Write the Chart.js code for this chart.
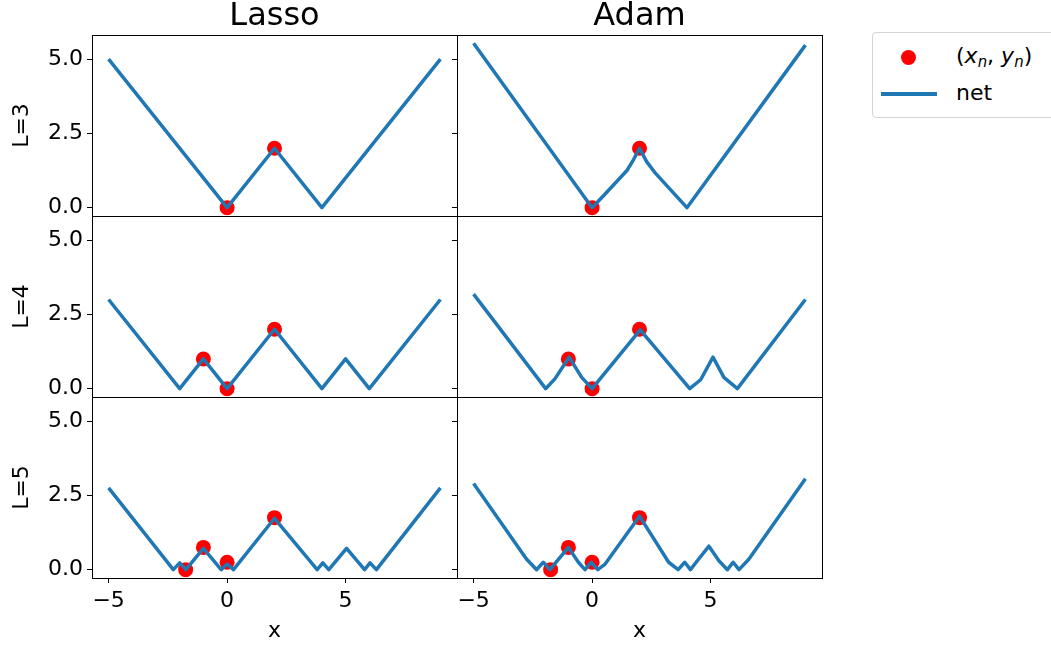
<!DOCTYPE html>
<html lang="en">
<head>
<meta charset="UTF-8">
<title>Lasso vs Adam</title>
<script src="https://cdn.jsdelivr.net/npm/chart.js"></script>
<style>
  body {
    margin: 0;
    background: #fff;
    width: 1051px;
    height: 645px;
    overflow: hidden;
    position: relative;
    font-family: "DejaVu Sans", sans-serif;
  }
  canvas.panel { position: absolute; }
  .legend {
    position: absolute; left: 872px; top: 32px;
    width: 200px; height: 86px;
    border: 1px solid #d4d4d4; border-radius: 4px;
    box-sizing: border-box;
  }
  .legend .dot {
    position: absolute; left: 28px; top: 17px;
    width: 15px; height: 15px; border-radius: 50%; background: red;
  }
  .legend .swatch {
    position: absolute; left: 8px; top: 59px;
    width: 56px; height: 3.5px; background: #1f77b4;
  }
  .legend .lbl {
    position: absolute; left: 83px;
    font-size: 22px; line-height: 26px; color: #000; white-space: nowrap;
  }
  .legend sub { font-size: 68%; vertical-align: -0.3em; line-height: 0; }
</style>
</head>
<body>

<div class="legend">
  <span class="dot"></span>
  <span class="lbl" style="top:10px">(<i>x</i><sub><i>n</i></sub>, <i>y</i><sub><i>n</i></sub>)</span>
  <span class="swatch"></span>
  <span class="lbl" style="top:47px">net</span>
</div>

<script>
// axis ticks and labels
const xTicks = [-5, 0, 5];
const yTicks = [0, 2.5, 5];
const colTitles = ["Lasso", "Adam"];
const rowLabels = ["L=3", "L=4", "L=5"];

// training points (x_n, y_n) for each depth
const ptsX3 = [0, 2];
const ptsY3 = [0, 2];
const ptsX4 = [-1, 0, 2];
const ptsY4 = [1, 0, 2];
const ptsX5 = [-1.75, -1, 0, 2];
const ptsY5 = [0, 0.75, 0.25, 1.75];

// network output, Lasso column
const lassoX3 = [-5, 0, 2, 4, 9];
const lassoY3 = [5, 0, 2, 0, 5];
const lassoX4 = [-5, -2, -1, 0, 2, 4, 5, 6, 9];
const lassoY4 = [3, 0, 1, 0, 2, 0, 1, 0, 3];
const lassoX5 = [-5, -2.27, -2, -1.74, -1, -0.25, 0, 0.27, 2, 3.8, 4.04, 4.29, 5.04, 5.8, 6.03, 6.3, 9];
const lassoY5 = [2.75, 0, 0.23, 0, 0.72, 0, 0.19, 0, 1.73, 0, 0.23, 0, 0.72, 0, 0.23, 0, 2.75];

// network output, Adam column
const adamX3 = [-5, 0, 0.55, 1.47, 1.75, 2, 2.3, 2.64, 4, 9];
const adamY3 = [5.53, 0, 0.46, 1.25, 1.62, 2.0, 1.55, 1.19, 0, 5.47];
const adamX4 = [-5, -1.96, -1.57, -0.97, -0.44, 0, 2.03, 4.12, 4.58, 5.1, 5.56, 6.13, 9];
const adamY4 = [3.18, 0, 0.33, 1.06, 0.38, 0, 1.98, 0, 0.3, 1.06, 0.38, 0, 3.0];
const adamX5 = [-5, -2.77, -2.34, -2.06, -1.78, -1, -0.58, -0.3, -0.04, 0.24, 0.55, 2, 3.23, 3.63, 3.91, 4.15, 4.44, 4.93, 5.35, 5.71, 5.95, 6.2, 6.62, 9];
const adamY5 = [2.9, 0.36, 0, 0.25, 0, 0.75, 0.25, 0, 0.25, 0, 0.19, 1.8, 0.25, 0, 0.25, 0, 0.3, 0.79, 0.3, 0, 0.25, 0, 0.36, 3.06];

const xMin = -5.7, xMax = 9.7;
const yMin = -0.28, yMax = 5.81;

const panels = [
  [[lassoX3, lassoY3, ptsX3, ptsY3], [adamX3, adamY3, ptsX3, ptsY3]],
  [[lassoX4, lassoY4, ptsX4, ptsY4], [adamX4, adamY4, ptsX4, ptsY4]],
  [[lassoX5, lassoY5, ptsX5, ptsY5], [adamX5, adamY5, ptsX5, ptsY5]],
];

Chart.defaults.font.family = "'DejaVu Sans', sans-serif";
Chart.defaults.color = "#000";

const toXY = (xs, ys) => xs.map((x, i) => ({ x: x, y: ys[i] }));

// black box round every axes, like matplotlib spines
const frame = {
  id: "frame",
  afterDraw(chart) {
    const { ctx, chartArea: a } = chart;
    ctx.save();
    ctx.strokeStyle = "#000";
    ctx.lineWidth = 1;
    ctx.strokeRect(Math.round(a.left) + 0.5, Math.round(a.top) + 0.5,
                   Math.round(a.right - a.left), Math.round(a.bottom - a.top));
    ctx.restore();
  }
};

const plotLeft = [92, 457];
const rowTop = [35, 216, 397];
const plotW = 365, plotH = 181;
const pad = 24;

function makePanel(row, col) {
  const [netX, netY, pX, pY] = panels[row][col];
  const axisW = col === 0 ? 92 : 60;
  const xAxisH = row === 2 ? 67 : 0;
  const padTop = row === 0 ? 0 : pad;
  const padBottom = row === 2 ? 0 : pad;
  const canvasTop = rowTop[row] - (row === 0 ? 35 : pad);
  const w = axisW + plotW + 10;
  const h = (rowTop[row] - canvasTop) + plotH + xAxisH + padBottom;

  const canvas = document.createElement("canvas");
  canvas.className = "panel";
  canvas.width = w;
  canvas.height = h;
  canvas.style.left = (plotLeft[col] - axisW) + "px";
  canvas.style.top = canvasTop + "px";
  canvas.style.width = w + "px";
  canvas.style.height = h + "px";
  document.body.appendChild(canvas);

  new Chart(canvas.getContext("2d"), {
    type: "scatter",
    data: {
      datasets: [
        {
          type: "line",
          label: "net",
          data: toXY(netX, netY),
          borderColor: "#1f77b4",
          borderWidth: 3.5,
          borderJoinStyle: "round",
          pointRadius: 0,
          tension: 0,
          fill: false,
        },
        {
          label: "(x_n, y_n)",
          data: toXY(pX, pY),
          backgroundColor: "red",
          borderWidth: 0,
          pointRadius: 7.5,
        },
      ],
    },
    options: {
      responsive: false,
      animation: false,
      events: [],
      layout: { padding: { left: 0, right: 10, top: padTop, bottom: padBottom } },
      plugins: {
        legend: { display: false },
        tooltip: { enabled: false },
        title: {
          display: row === 0,
          text: colTitles[col],
          fullSize: false,
          font: { size: 32, weight: "normal", lineHeight: 1 },
          color: "#000",
          padding: { top: 1, bottom: 2 },
        },
      },
      scales: {
        x: {
          type: "linear",
          display: row === 2,
          min: xMin,
          max: xMax,
          afterBuildTicks: s => { s.ticks = xTicks.map(v => ({ value: v })); },
          afterFit: s => { s.height = xAxisH; },
          grid: { drawOnChartArea: false, tickLength: 5, color: "#000", lineWidth: 1 },
          border: { display: false },
          ticks: {
            font: { size: 22 },
            color: "#000",
            padding: 5,
            maxRotation: 0,
            callback: v => (v < 0 ? "\u2212" + Math.abs(v) : String(v)),
          },
          title: {
            display: true,
            text: "x",
            font: { size: 22 },
            color: "#000",
            padding: { top: 0, bottom: 1 },
          },
        },
        y: {
          type: "linear",
          min: yMin,
          max: yMax,
          afterBuildTicks: s => { s.ticks = yTicks.map(v => ({ value: v })); },
          afterFit: s => { s.width = axisW; },
          grid: { drawOnChartArea: false, tickLength: 5, color: "#000", lineWidth: 1 },
          border: { display: false },
          ticks: {
            font: { size: 22 },
            color: "#000",
            padding: 4,
            callback: v => (col === 0 ? v.toFixed(1) : ""),
          },
          title: {
            display: col === 0,
            text: rowLabels[row],
            font: { size: 22 },
            color: "#000",
            padding: { top: 9, bottom: 0 },
          },
        },
      },
    },
    plugins: [frame],
  });
}

for (let r = 0; r < 3; r++) {
  for (let c = 0; c < 2; c++) {
    makePanel(r, c);
  }
}
</script>

</body>
</html>
